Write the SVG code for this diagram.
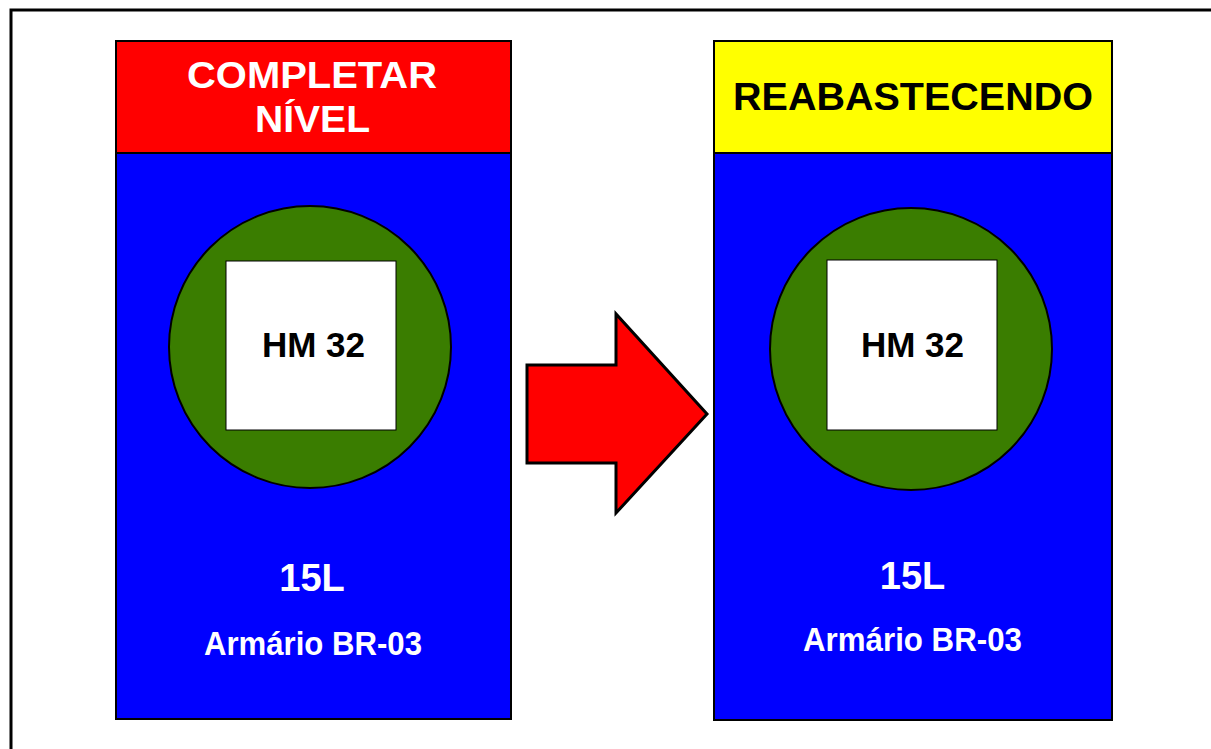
<svg xmlns="http://www.w3.org/2000/svg" width="1211" height="749" viewBox="0 0 1211 749">
<style>
.t{font-family:"Liberation Sans",Arial,sans-serif;font-weight:bold;text-anchor:middle}
.w{fill:#fff}.k{fill:#000}
.ol{stroke:#000;stroke-width:2}
</style>
<rect width="1211" height="749" fill="#fff"/>
<path d="M11 749 V10 H1211" fill="none" stroke="#000" stroke-width="3"/>
<g id="card-left">
<rect x="116" y="153" width="395" height="566" fill="#0000ff" class="ol"/>
<rect x="116" y="41" width="395" height="112" fill="#ff0000" class="ol"/>
<text class="t w" x="312" y="88" font-size="37" textLength="250" lengthAdjust="spacingAndGlyphs">COMPLETAR</text>
<text class="t w" x="312.5" y="132" font-size="37" textLength="115" lengthAdjust="spacingAndGlyphs">NÍVEL</text>
<circle cx="310" cy="347" r="141" fill="#3a7d00" class="ol"/>
<rect x="226" y="261" width="170" height="169" fill="#fff" stroke="#000" stroke-width="1"/>
<text class="t k" x="313.5" y="357" font-size="35">HM 32</text>
<text class="t w" x="312" y="591" font-size="38">15L</text>
<text class="t w" x="313" y="655" font-size="33" textLength="218" lengthAdjust="spacingAndGlyphs">Armário BR-03</text>
</g>
<g id="card-right">
<rect x="714" y="153" width="398" height="567" fill="#0000ff" class="ol"/>
<rect x="714" y="41" width="398" height="112" fill="#ffff00" class="ol"/>
<text class="t k" x="913" y="110" font-size="39" textLength="360" lengthAdjust="spacingAndGlyphs">REABASTECENDO</text>
<circle cx="911" cy="349" r="141" fill="#3a7d00" class="ol"/>
<rect x="827" y="260" width="170" height="170" fill="#fff" stroke="#000" stroke-width="1"/>
<text class="t k" x="912.5" y="357" font-size="35">HM 32</text>
<text class="t w" x="912.5" y="589" font-size="38">15L</text>
<text class="t w" x="912.5" y="651" font-size="33" textLength="219" lengthAdjust="spacingAndGlyphs">Armário BR-03</text>
</g>
<g id="connectors">
<polygon points="527,365 616,365 616,314 707,414 616,513 616,463 527,463" fill="#ff0000" stroke="#000" stroke-width="3" stroke-linejoin="miter"/>
</g>
</svg>
